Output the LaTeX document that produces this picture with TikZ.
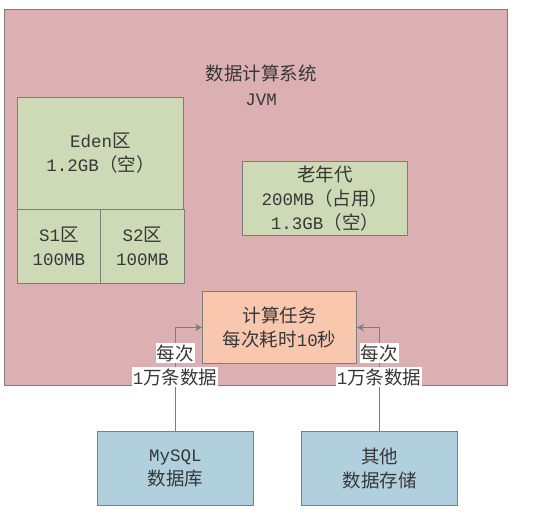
\documentclass[tikz,border=0pt]{standalone}
\usepackage{fontspec}
\setmainfont{Noto Sans CJK SC}
\newfontfamily\latmono{Liberation Mono}
\newcommand{\la}[1]{{\latmono\fontsize{17.5}{24}\selectfont #1}}
\usetikzlibrary{arrows.meta}
\definecolor{pinkbg}{RGB}{220,176,178}
\definecolor{greenbg}{RGB}{205,218,181}
\definecolor{orangebg}{RGB}{248,199,174}
\definecolor{bluebg}{RGB}{175,208,220}
\definecolor{edge}{RGB}{125,125,125}
\definecolor{txt}{RGB}{55,55,55}
\begin{document}
\begin{tikzpicture}[x=1pt,y=-1pt,
  box/.style={draw=edge, line width=1pt, anchor=north west, inner sep=0pt, align=center,
    text=txt, font=\fontsize{18.5}{24}\selectfont},
  lab/.style={fill=white, inner sep=1pt, text=txt, font=\fontsize{18.5}{24}\selectfont},
  conn/.style={draw=edge, line width=1pt},
  arr/.style={conn, -{Stealth[length=7pt,width=7pt]}}]
\useasboundingbox (0,0) rectangle (554,515);
\node[box, fill=pinkbg, minimum width=503pt, minimum height=376pt] (jvm) at (4,9) {};
\node[align=center, text=txt, font=\fontsize{18.5}{25}\selectfont] (title) at (261,85) {数据计算系统\\\la{JVM}};
\node[box, fill=greenbg, minimum width=166pt, minimum height=112pt] (eden) at (17,97) {\la{Eden}区\\\la{1.2GB}（空）};
\node[box, fill=greenbg, minimum width=83pt, minimum height=74pt] (s1) at (17,209) {\la{S1}区\\\la{100MB}};
\node[box, fill=greenbg, minimum width=84pt, minimum height=74pt] (s2) at (100,209) {\la{S2}区\\\la{100MB}};
\node[box, fill=greenbg, minimum width=165pt, minimum height=74pt] (old) at (242,161) {老年代\\\la{200MB}（占用）\\\la{1.3GB}（空）};
\node[box, fill=orangebg, minimum width=154pt, minimum height=72pt] (task) at (202,291) {计算任务\\每次耗时\la{10}秒};
\node[box, fill=bluebg, minimum width=156pt, minimum height=74pt] (mysql) at (97,431) {\la{MySQL}\\数据库};
\node[box, fill=bluebg, minimum width=156pt, minimum height=74pt] (other) at (301,431) {其他\\数据存储};
\draw[arr] (mysql.north) |- (task.west);
\draw[arr] (other.north) |- (task.east);
\node[lab] (l1a) at (175,353) {每次};
\node[lab] (l1b) at (175,377) {\la{1}万条数据};
\node[lab] (l2a) at (379,353) {每次};
\node[lab] (l2b) at (379,377) {\la{1}万条数据};
\end{tikzpicture}
\end{document}
